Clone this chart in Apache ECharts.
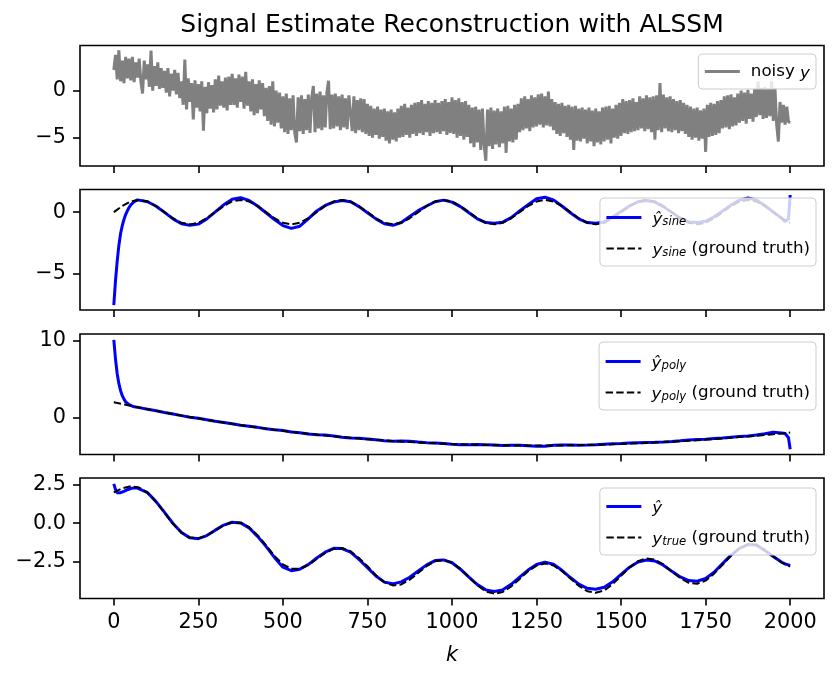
<!DOCTYPE html>
<html>
<head>
<meta charset="utf-8">
<script src="https://cdn.jsdelivr.net/npm/echarts@6/dist/echarts.min.js"></script>
<style>
  html, body { margin: 0; padding: 0; background: #fff; }
  #chart { width: 839px; height: 678px; }
</style>
</head>
<body>
<div id="chart"></div>
<script>
// ---------------- DATA ----------------
// sample positions
const kNoisy = Array.from({ length: 401 }, (_, i) => i * 5);
const kCoarse = Array.from({ length: 81 }, (_, i) => i * 25);
const kFine = [0, 5, 10, 15, 20, 25, 30, 35, 40, 45, 50, 55, 60, 65, 70, 75]
  .concat(kCoarse.slice(4, 80))
  .concat([1980, 1985, 1990, 1995, 2000]);

// panel 1: noisy observation (read as the band's upper / lower excursions)
const noisyY = [
  2.2, 3.8, 1.2, 4.3, 1.0, 3.2, 0.8, 3.6, 1.3, 3.4,
  1.1, 3.6, 0.9, 3.0, 1.4, 3.4, 1.0, -0.3, 3.2, 1.2,
  2.8, 0.4, 4.25, 0.0, 2.6, 0.5, 3.0, 0.2, 2.4, 0.3,
  2.1, -0.2, 2.4, -0.6, 1.8, 0.0, 2.2, -0.4, 1.9, -0.8,
  1.0, -1.5, 3.3, -2.0, 1.3, -1.2, 0.8, -3.05, 1.1, -1.8,
  0.7, -2.2, 1.0, -4.25, 0.4, -2.4, 0.9, -1.9, 0.6, -2.3,
  1.2, -2.0, 1.6, -1.6, 1.0, -1.8, 1.4, -2.1, 1.5, -1.5,
  1.8, -1.5, 1.3, -1.8, 1.7, -1.2, 1.5, -1.9, 2.0, -1.6,
  1.0, -2.2, 1.2, -2.6, 0.7, -2.4, 1.1, -2.0, 0.8, -2.7,
  0.3, -3.2, 0.5, -3.6, 1.0, -3.8, 0.0, -3.4, -0.2, -4.0,
  -0.6, -4.4, -0.3, -4.6, -0.8, -4.2, -0.5, -4.5, -5.5, -0.7,
  -4.3, -0.5, -4.6, -0.9, -4.2, -0.4, -4.5, -0.8, 0.5, -4.4,
  -0.3, -4.0, -0.1, -4.2, -0.5, -3.9, -0.2, 1.06, -4.1, -0.4,
  -4.0, -0.3, -3.8, -0.6, -4.2, -0.4, -3.9, -0.8, -4.1, -0.5,
  -0.7, -4.3, -0.6, -4.5, -1.0, -4.2, -0.8, -4.4, -0.9, -4.6,
  -1.4, -4.8, -1.6, -5.0, -1.9, -4.7, -1.7, -5.1, -2.0, -4.9,
  -1.9, -5.3, -2.2, -5.6, -2.0, -5.2, -2.3, -5.4, -1.9, -5.0,
  -1.6, -4.9, -1.4, -4.7, -1.8, -5.0, -1.5, -4.6, -1.3, -4.8,
  -1.2, -4.5, -1.0, -4.7, -1.4, -4.4, -1.1, -4.8, -1.3, -4.5,
  -1.0, -4.4, -1.3, -4.6, -1.1, -4.3, -0.9, -4.7, -1.2, -4.5,
  -0.7, -4.6, -1.0, -5.0, -0.8, -4.8, -1.2, -5.2, -1.1, -4.9,
  -1.5, -5.6, -1.8, -6.0, -1.7, -5.5, -2.0, -6.3, -1.9, -5.8,
  -7.45, -2.0, -5.9, -1.8, -6.2, -2.1, -5.7, -1.9, -6.0, -2.2,
  -5.6, -1.7, -6.6, -1.6, -5.4, -1.9, -5.5, -1.5, -5.2, -1.4,
  -4.4, -0.8, -4.2, -0.6, -4.0, -0.9, -4.3, -0.5, -3.9, -0.7,
  -3.8, -0.4, -3.6, -0.3, -3.9, -0.6, -3.7, -0.1, -3.8, -0.9,
  -4.2, -1.2, -4.6, -1.4, -4.8, -1.3, -4.5, -1.6, -4.9, -1.5,
  -5.2, -1.7, -6.3, -1.6, -5.3, -1.9, -5.4, -1.8, -5.1, -2.0,
  -5.6, -1.8, -5.4, -2.1, -5.9, -1.9, -5.5, -2.2, -5.7, -1.8,
  -5.4, -1.7, -5.2, -1.6, -5.6, -1.9, -5.0, -1.5, -5.1, -1.3,
  -4.8, -0.9, -4.5, -1.1, -4.6, -1.0, -4.4, -0.8, -4.3, -1.2,
  -4.2, -0.6, -4.0, -0.8, -4.3, -0.5, -4.1, -0.7, -4.4, -0.6,
  -5.2, -0.5, -4.2, 0.8, -4.4, -0.4, -4.0, -0.7, -4.3, -0.6,
  -4.4, -0.9, -4.2, -1.1, -4.5, -1.0, -4.3, -1.3, -4.6, -1.5,
  -4.9, -1.7, -5.2, -1.9, -5.0, -1.8, -5.3, -2.1, -5.1, -1.9,
  -6.5, -1.5, -4.9, -1.3, -4.8, -1.4, -4.7, -1.1, -4.5, -1.0,
  -4.0, -0.6, -3.9, -0.5, -4.1, -0.4, -3.8, -0.7, -3.7, -0.3,
  -3.4, 0.0, -3.2, -0.2, -3.5, 0.1, -3.0, -0.3, -3.3, 0.2,
  -2.8, 1.0, -2.6, 0.3, -3.0, 0.4, -2.9, 0.2, -2.7, 1.0,
  -3.2, 0.3, -3.6, -5.4, -1.2, -3.4, -1.5, -3.6, -1.7, -3.3,
  -3.4
];

// panel 2: sine component
const ySineHat = [
  -7.6, -5.6, -4.0, -2.7, -1.75, -1.1, -0.6, -0.2, 0.1, 0.38, 0.58, 0.74, 0.86, 0.95, 1.0, 1.02,
  0.85, 0.48, -0.02, -0.55, -0.95, -1.08, -0.98, -0.55, 0.02, 0.60,
  1.05, 1.18, 0.95, 0.50, -0.05, -0.60, -1.10, -1.33, -1.15, -0.55,
  0.10, 0.55, 0.82, 0.95, 0.85, 0.45, -0.05, -0.55, -0.95, -1.08,
  -0.85, -0.35, 0.12, 0.50, 0.85, 0.98, 0.82, 0.45, -0.05, -0.55,
  -0.85, -0.90, -0.82, -0.45, 0.10, 0.60, 1.10, 1.22, 1.00, 0.50,
  -0.05, -0.55, -0.85, -0.90, -0.80, -0.40, 0.05, 0.50, 0.85, 0.95,
  0.82, 0.45, -0.02, -0.50, -0.80, -0.85, -0.75, -0.38, 0.10, 0.58,
  0.98, 1.15, 1.00, 0.55, 0.00, -0.50,
  -0.65, -0.78, -0.85, -0.55, 1.40
];
const ySineTrue = [
  0, 0.5, 0.87, 1, 0.87, 0.5, 0, -0.5, -0.87, -1, -0.87, -0.5,
  0, 0.5, 0.87, 1, 0.87, 0.5, 0, -0.5, -0.87, -1, -0.87, -0.5,
  0, 0.5, 0.87, 1, 0.87, 0.5, 0, -0.5, -0.87, -1, -0.87, -0.5,
  0, 0.5, 0.87, 1, 0.87, 0.5, 0, -0.5, -0.87, -1, -0.87, -0.5,
  0, 0.5, 0.87, 1, 0.87, 0.5, 0, -0.5, -0.87, -1, -0.87, -0.5,
  0, 0.5, 0.87, 1, 0.87, 0.5, 0, -0.5, -0.87, -1, -0.87, -0.5,
  0, 0.5, 0.87, 1, 0.87, 0.5, 0, -0.5, -0.87
];

// panel 3: polynomial component
const yPolyHat = [
  10.1, 7.6, 5.7, 4.4, 3.5, 2.85, 2.4, 2.05, 1.85, 1.68, 1.56, 1.48, 1.42, 1.37, 1.33, 1.30,
  1.10, 0.90, 0.68, 0.47, 0.26, 0.06, -0.08, -0.28, -0.48, -0.64,
  -0.80, -0.99, -1.12, -1.26, -1.44, -1.58, -1.68, -1.85, -1.95, -2.12,
  -2.22, -2.26, -2.38, -2.55, -2.63, -2.66, -2.76, -2.88, -2.99, -3.05,
  -3.02, -3.05, -3.15, -3.24, -3.28, -3.36, -3.45, -3.50, -3.50, -3.48,
  -3.50, -3.55, -3.60, -3.58, -3.58, -3.66, -3.72, -3.70, -3.58, -3.55,
  -3.56, -3.57, -3.55, -3.50, -3.44, -3.40, -3.36, -3.30, -3.25, -3.22,
  -3.20, -3.15, -3.08, -3.00, -2.90, -2.85, -2.80, -2.72, -2.65, -2.55,
  -2.45, -2.38, -2.25, -2.10, -1.90, -2.00,
  -1.85, -2.05, -2.00, -2.60, -4.10
];
const yPolyTrue = [
  2.00, 1.76, 1.53, 1.31, 1.09, 0.88, 0.67, 0.46, 0.27, 0.07,
  -0.11, -0.30, -0.47, -0.64, -0.81, -0.97, -1.13, -1.28, -1.42, -1.56,
  -1.70, -1.83, -1.96, -2.08, -2.19, -2.31, -2.41, -2.51, -2.61, -2.70,
  -2.79, -2.87, -2.95, -3.03, -3.10, -3.16, -3.22, -3.28, -3.33, -3.38,
  -3.42, -3.46, -3.49, -3.52, -3.55, -3.57, -3.59, -3.60, -3.61, -3.61,
  -3.62, -3.61, -3.61, -3.60, -3.58, -3.56, -3.54, -3.51, -3.49, -3.45,
  -3.41, -3.37, -3.33, -3.28, -3.23, -3.17, -3.12, -3.05, -2.99, -2.92,
  -2.85, -2.77, -2.69, -2.61, -2.52, -2.43, -2.34, -2.25, -2.15, -2.05,
  -1.94
];

// panel 4: full signal
const yHat = [
  2.55, 2.18, 1.98, 1.96, 1.98, 2.02, 2.07, 2.12, 2.17, 2.21, 2.25, 2.27, 2.29, 2.29, 2.28, 2.25,
  1.98, 1.40, 0.70, -0.02, -0.60, -0.95, -1.00, -0.80, -0.45, -0.12,
  0.06, 0.02, -0.30, -0.85, -1.50, -2.22, -2.85, -3.08, -2.98, -2.68,
  -2.25, -1.88, -1.63, -1.64, -1.88, -2.35, -2.88, -3.42, -3.82, -3.93,
  -3.80, -3.50, -3.10, -2.70, -2.42, -2.38, -2.56, -2.98, -3.50, -3.98,
  -4.32, -4.43, -4.32, -3.96, -3.50, -3.04, -2.68, -2.52, -2.66, -3.05,
  -3.52, -3.95, -4.22, -4.28, -4.15, -3.80, -3.32, -2.85, -2.52, -2.39,
  -2.45, -2.72, -3.12, -3.48, -3.72, -3.76, -3.58, -3.18, -2.62, -2.07,
  -1.63, -1.38, -1.42, -1.76, -2.16, -2.53,
  -2.60, -2.64, -2.67, -2.70, -2.73
];
const yTrue = [
  2.00, 2.26, 2.40, 2.31, 1.96, 1.38, 0.67, -0.04, -0.60, -0.93,
  -0.98, -0.80, -0.47, -0.14, 0.06, 0.03, -0.26, -0.78, -1.42, -2.12,
  -2.67, -2.95, -2.96, -2.72, -2.32, -1.93, -1.65, -1.61, -1.82, -2.26,
  -2.79, -3.37, -3.82, -4.03, -3.97, -3.66, -3.22, -2.78, -2.46, -2.38,
  -2.55, -2.96, -3.49, -4.02, -4.42, -4.57, -4.46, -4.10, -3.61, -3.11,
  -2.75, -2.61, -2.74, -3.10, -3.58, -4.06, -4.41, -4.51, -4.36, -3.95,
  -3.41, -2.87, -2.46, -2.28, -2.36, -2.67, -3.12, -3.55, -3.86, -3.92,
  -3.72, -3.27, -2.69, -2.11, -1.65, -1.38, -1.40, -1.75, -2.15, -2.55,
  -2.81
];

// ticks
const xTicks = [0, 250, 500, 750, 1000, 1250, 1500, 1750, 2000];
const yTicks = [[-5, 0], [-5, 0], [0, 10], [-2.5, 0, 2.5]];
const yRanges = [[-8.0, 4.8], [-8.0, 1.85], [-4.78, 10.85], [-4.88, 2.93]];

const titleText = 'Signal Estimate Reconstruction with ALSSM';
const legendLabels = {
  noisy: 'noisy {it|y}',
  ysHat: '{it|ŷ}{sub|sine}',
  ysTrue: '{it|y}{sub|sine} (ground truth)',
  ypHat: '{it|ŷ}{sub|poly}',
  ypTrue: '{it|y}{sub|poly} (ground truth)',
  yHat: '{it|ŷ}',
  yTrue: '{it|y}{sub|true} (ground truth)'
};

// ---------------- LAYOUT / STYLE ----------------
const FONT = 'DejaVu Sans';
const GRID_TOPS = [45.5, 189.5, 334, 478];
const GRID_H = 120.5;
const zip = (xs, ys) => xs.map((x, i) => [x, ys[i]]);
const minus = s => s.replace('-', '\u2212');

const grids = GRID_TOPS.map(t => ({
  left: 80, right: 15, top: t, height: GRID_H,
  show: true, borderColor: '#000', borderWidth: 1.6, backgroundColor: 'transparent'
}));

const xAxes = GRID_TOPS.map((t, i) => ({
  type: 'value', gridIndex: i, min: -100, max: 2100,
  axisLine: { show: false, onZero: false },
  axisTick: { show: true, length: 7, lineStyle: { color: '#000', width: 1.6 }, customValues: xTicks },
  axisLabel: {
    show: i === 3, customValues: xTicks, margin: 14, color: '#000',
    fontSize: 20.8, fontFamily: FONT, formatter: v => String(v)
  },
  splitLine: { show: false },
  name: i === 3 ? 'k' : '',
  nameLocation: 'middle', nameGap: 47,
  nameTextStyle: { fontStyle: 'italic', fontSize: 20.8, fontFamily: FONT, color: '#000' }
}));

const yAxes = GRID_TOPS.map((t, i) => ({
  type: 'value', gridIndex: i, min: yRanges[i][0], max: yRanges[i][1],
  axisLine: { show: false, onZero: false },
  axisTick: { show: true, length: 7, lineStyle: { color: '#000', width: 1.6 }, customValues: yTicks[i] },
  axisLabel: {
    customValues: yTicks[i], margin: 14, color: '#000', fontSize: 20.8, fontFamily: FONT,
    formatter: v => minus(i === 3 ? Number(v).toFixed(1) : String(v))
  },
  splitLine: { show: false }
}));

const gray = { color: '#808080', width: 3 };
const blue = { color: '#0000ff', width: 3 };
const dash = { color: '#000000', width: 2, type: [7.4, 3.2] };
function line(name, idx, data, ls) {
  return {
    type: 'line', name, xAxisIndex: idx, yAxisIndex: idx, data,
    symbol: 'none', showSymbol: false, silent: true, animation: false,
    lineStyle: ls, itemStyle: { color: ls.color }
  };
}
const series = [
  line('noisy', 0, zip(kNoisy, noisyY), gray),
  line('ysHat', 1, zip(kFine, ySineHat), blue),
  line('ysTrue', 1, zip(kCoarse, ySineTrue), dash),
  line('ypHat', 2, zip(kFine, yPolyHat), blue),
  line('ypTrue', 2, zip(kCoarse, yPolyTrue), dash),
  line('yHat', 3, zip(kFine, yHat), blue),
  line('yTrue', 3, zip(kCoarse, yTrue), dash)
];

const richStyles = {
  it: { fontStyle: 'italic', fontSize: 16.7, fontFamily: FONT, color: '#000', lineHeight: 21, verticalAlign: 'bottom' },
  sub: { fontStyle: 'italic', fontSize: 11.7, fontFamily: FONT, color: '#000', lineHeight: 10, verticalAlign: 'bottom' },
  pad: { width: 6 }
};
function legend(items, top, padding) {
  return {
    data: items.map(([name, ls]) => ({ name, lineStyle: { width: ls.width, type: ls.type || 'solid', color: ls.color } })),
    orient: 'vertical', right: 23, top,
    selectedMode: false, itemWidth: 35, itemHeight: 14, itemGap: 10,
    itemStyle: { opacity: 0 },
    padding, backgroundColor: 'rgba(255,255,255,0.8)', borderColor: '#cccccc',
    borderWidth: 1, borderRadius: 4,
    formatter: n => '{pad| }' + legendLabels[n],
    textStyle: { fontSize: 16.7, fontFamily: FONT, color: '#000', lineHeight: 21, rich: richStyles }
  };
}

const option = {
  animation: false,
  backgroundColor: '#ffffff',
  textStyle: { fontFamily: FONT },
  grid: grids,
  xAxis: xAxes,
  yAxis: yAxes,
  legend: [
    legend([['noisy', gray]], 54, [7, 6, 7, 5]),
    legend([['ysHat', blue], ['ysTrue', dash]], 198, [9, 6, 7, 5]),
    legend([['ypHat', blue], ['ypTrue', dash]], 342, [9, 6, 7, 5]),
    legend([['yHat', blue], ['yTrue', dash]], 488, [8, 6, 7, 5])
  ],
  graphic: [{
    type: 'text', x: 452, y: 25,
    style: { text: titleText, fontSize: 25, fontFamily: FONT, fill: '#000',
             align: 'center', verticalAlign: 'middle', textAlign: 'center', textVerticalAlign: 'middle' }
  }],
  series
};

const chart = echarts.init(document.getElementById('chart'), null, { renderer: 'canvas' });
chart.setOption(option);
</script>
</body>
</html>
